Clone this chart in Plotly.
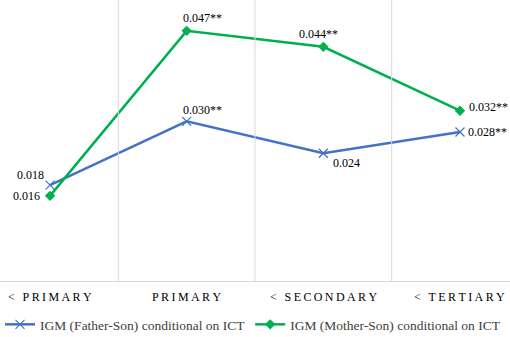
import plotly.graph_objects as go

categories = ["< PRIMARY", "PRIMARY", "< SECONDARY", "< TERTIARY"]
father_son = [0.018, 0.030, 0.024, 0.028]
mother_son = [0.016, 0.047, 0.044, 0.032]
father_labels = ["0.018", "0.030**", "0.024", "0.028**"]
mother_labels = ["0.016", "0.047**", "0.044**", "0.032**"]
series_names = ["IGM (Father-Son) conditional on ICT", "IGM (Mother-Son) conditional on ICT"]

BLUE = "#4472C4"
GREEN = "#00B050"
FONT = "Liberation Serif"

def spaced(s):
    return "\u2009".join(list(s))

x = list(range(len(categories)))
fig = go.Figure()
fig.add_trace(go.Scatter(x=x, y=father_son, mode="lines+markers", name=series_names[0],
                         line=dict(color=BLUE, width=2.5),
                         marker=dict(symbol="x-thin", size=9, line=dict(color=BLUE, width=1.2))))
fig.add_trace(go.Scatter(x=x, y=mother_son, mode="lines+markers", name=series_names[1],
                         line=dict(color=GREEN, width=2.5),
                         marker=dict(symbol="diamond", size=8, color=GREEN)))

# label placement styles (anchor, xshift, yshift)
father_style = [("right", -4, 10), ("left", -6, 11), ("left", 8, -10), ("left", 6, 0)]
mother_style = [("right", -8, 0), ("left", -6, 13), ("center", -5, 13), ("left", 7, 4)]
annotations = []
for i in x:
    a, xs, ys = father_style[i]
    annotations.append(dict(x=i, y=father_son[i], xref="x", yref="y", text=father_labels[i],
                            showarrow=False, xanchor=a, yanchor="middle", xshift=xs, yshift=ys,
                            font=dict(family=FONT, size=12, color="#000")))
    a, xs, ys = mother_style[i]
    annotations.append(dict(x=i, y=mother_son[i], xref="x", yref="y", text=mother_labels[i],
                            showarrow=False, xanchor=a, yanchor="middle", xshift=xs, yshift=ys,
                            font=dict(family=FONT, size=12, color="#000")))
for i, c in enumerate(categories):
    annotations.append(dict(x=i, y=0, xref="x", yref="paper", text=spaced(c), showarrow=False,
                            xanchor="center", yanchor="middle", yshift=-16,
                            font=dict(family=FONT, size=12, color="#000")))

shapes = [dict(type="line", xref="x", yref="paper", x0=i + 0.5, x1=i + 0.5, y0=0, y1=1,
               line=dict(color="#D9D9D9", width=1)) for i in range(len(categories) - 1)]

fig.update_layout(
    width=510, height=337,
    margin=dict(l=0, r=0, t=0, b=56, autoexpand=False),
    paper_bgcolor="white", plot_bgcolor="white",
    xaxis=dict(range=[-0.366, 3.366], showgrid=False, zeroline=False, showticklabels=False,
               showline=True, linecolor="#D9D9D9", linewidth=1),
    yaxis=dict(range=[0, 0.0528], visible=False, showgrid=False, zeroline=False),
    legend=dict(orientation="h", x=0.0, xanchor="left", y=-0.155, yanchor="middle",
                font=dict(family=FONT, size=13.5, color="#404040"), itemwidth=30,
                bgcolor="rgba(0,0,0,0)"),
    annotations=annotations, shapes=shapes,
    showlegend=True,
)
fig.write_html("out.html")
